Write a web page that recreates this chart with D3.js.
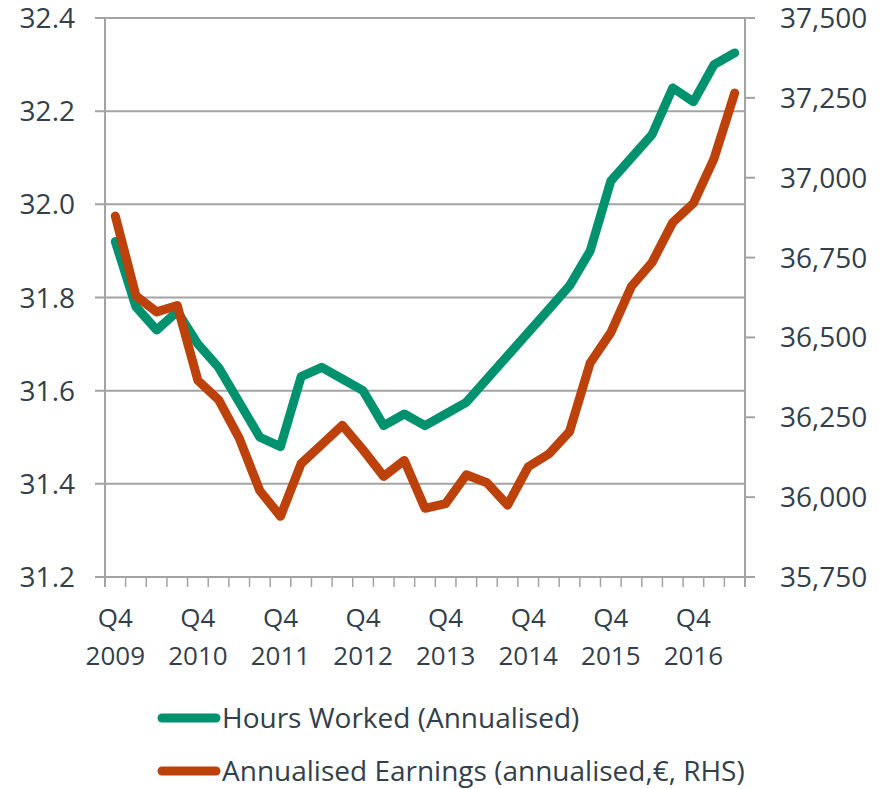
<!DOCTYPE html>
<html>
<head>
<meta charset="utf-8">
<script src="https://cdn.jsdelivr.net/npm/d3@7"></script>
<style>
  body { margin: 0; background: #fff; }
  text { font-family: "Open Sans", sans-serif; fill: #333f4a; }
</style>
</head>
<body>
<svg width="888" height="789"></svg>
<script>
// quarters, Q4 2009 .. Q2 2017
var quarters = ["Q4 2009","Q1 2010","Q2 2010","Q3 2010","Q4 2010","Q1 2011","Q2 2011","Q3 2011",
  "Q4 2011","Q1 2012","Q2 2012","Q3 2012","Q4 2012","Q1 2013","Q2 2013","Q3 2013",
  "Q4 2013","Q1 2014","Q2 2014","Q3 2014","Q4 2014","Q1 2015","Q2 2015","Q3 2015",
  "Q4 2015","Q1 2016","Q2 2016","Q3 2016","Q4 2016","Q1 2017","Q2 2017"];

// weekly hours worked (left axis)
var hours = [31.92,31.78,31.73,31.77,31.70,31.65,31.575,31.50,31.48,31.63,31.65,31.625,31.60,31.525,31.55,31.525,
  31.55,31.575,31.625,31.675,31.725,31.775,31.825,31.90,32.05,32.10,32.15,32.25,32.22,32.30,32.325];

// annualised earnings, euro (right axis)
var earnings = [36880,36630,36580,36600,36365,36305,36185,36020,35940,36105,36165,36225,36148,36065,36115,35965,
  35980,36070,36045,35975,36095,36135,36205,36420,36515,36660,36735,36860,36920,37060,37265];

var leftTicks = [31.2,31.4,31.6,31.8,32.0,32.2,32.4];
var rightTicks = [35750,36000,36250,36500,36750,37000,37250,37500];

var seriesNames = ["Hours Worked (Annualised)", "Annualised Earnings (annualised,\u20ac, RHS)"];
var green = "#00916f", red = "#bd410b", grey = "#a3a3a3";

var svg = d3.select("svg");
var pLeft = 105, pRight = 745, pTop = 18, pBottom = 577;

var x = d3.scaleBand().domain(quarters).range([pLeft, pRight]).padding(0);
var yL = d3.scaleLinear().domain([31.2, 32.4]).range([pBottom, pTop]);
var yR = d3.scaleLinear().domain([35750, 37500]).range([pBottom, pTop]);
var cx = function(q) { return x(q) + x.bandwidth() / 2; };

// gridlines + left ticks
svg.append("g").selectAll("line").data(leftTicks).enter().append("line")
  .attr("x1", pLeft - 10).attr("x2", pRight)
  .attr("y1", function(d) { return yL(d); }).attr("y2", function(d) { return yL(d); })
  .attr("stroke", grey).attr("stroke-width", 2);

// axes
svg.append("line").attr("x1", pLeft).attr("x2", pLeft).attr("y1", pTop).attr("y2", pBottom + 10)
  .attr("stroke", grey).attr("stroke-width", 2);
svg.append("line").attr("x1", pRight).attr("x2", pRight).attr("y1", pTop).attr("y2", pBottom + 10)
  .attr("stroke", grey).attr("stroke-width", 2);

// right ticks
svg.append("g").selectAll("line").data(rightTicks).enter().append("line")
  .attr("x1", pRight).attr("x2", pRight + 10)
  .attr("y1", function(d) { return yR(d); }).attr("y2", function(d) { return yR(d); })
  .attr("stroke", grey).attr("stroke-width", 2);

// x ticks at band edges
var edges = quarters.map(function(q) { return x(q); }).concat([pRight]);
svg.append("g").selectAll("line").data(edges).enter().append("line")
  .attr("x1", function(d) { return d; }).attr("x2", function(d) { return d; })
  .attr("y1", pBottom).attr("y2", pBottom + 10)
  .attr("stroke", grey).attr("stroke-width", 1.5);

// tick labels
svg.append("g").selectAll("text").data(leftTicks).enter().append("text")
  .attr("x", 75).attr("y", function(d) { return yL(d) + 10; })
  .attr("text-anchor", "end").style("font-size", "28px")
  .text(function(d) { return d.toFixed(1); });

svg.append("g").selectAll("text").data(rightTicks).enter().append("text")
  .attr("x", 780).attr("y", function(d) { return yR(d) + 10; })
  .style("font-size", "28px")
  .text(function(d) { return d3.format(",")(d); });

var q4 = quarters.filter(function(q) { return q.indexOf("Q4") === 0; });
var xl = svg.append("g").selectAll("text").data(q4).enter().append("text")
  .attr("text-anchor", "middle").style("font-size", "26px");
xl.append("tspan").attr("x", function(d) { return cx(d); }).attr("y", 627)
  .text(function(d) { return d.split(" ")[0]; });
xl.append("tspan").attr("x", function(d) { return cx(d); }).attr("y", 665)
  .text(function(d) { return d.split(" ")[1]; });

// lines
var lineL = d3.line().x(function(d, i) { return cx(quarters[i]); }).y(function(d) { return yL(d); });
var lineR = d3.line().x(function(d, i) { return cx(quarters[i]); }).y(function(d) { return yR(d); });

svg.append("path").datum(hours).attr("d", lineL)
  .attr("fill", "none").attr("stroke", green).attr("stroke-width", 9)
  .attr("stroke-linejoin", "round").attr("stroke-linecap", "round");
svg.append("path").datum(earnings).attr("d", lineR)
  .attr("fill", "none").attr("stroke", red).attr("stroke-width", 9)
  .attr("stroke-linejoin", "round").attr("stroke-linecap", "round");

// legend
var legend = svg.append("g").selectAll("g").data(seriesNames).enter().append("g")
  .attr("transform", function(d, i) { return "translate(0," + (718 + i * 53) + ")"; });
legend.append("line").attr("x1", 162).attr("x2", 216).attr("y1", 0).attr("y2", 0)
  .attr("stroke", function(d, i) { return i === 0 ? green : red; })
  .attr("stroke-width", 9).attr("stroke-linecap", "round");
legend.append("text").attr("x", 222).attr("y", 10).style("font-size", "28px")
  .text(function(d) { return d; });
</script>
</body>
</html>
